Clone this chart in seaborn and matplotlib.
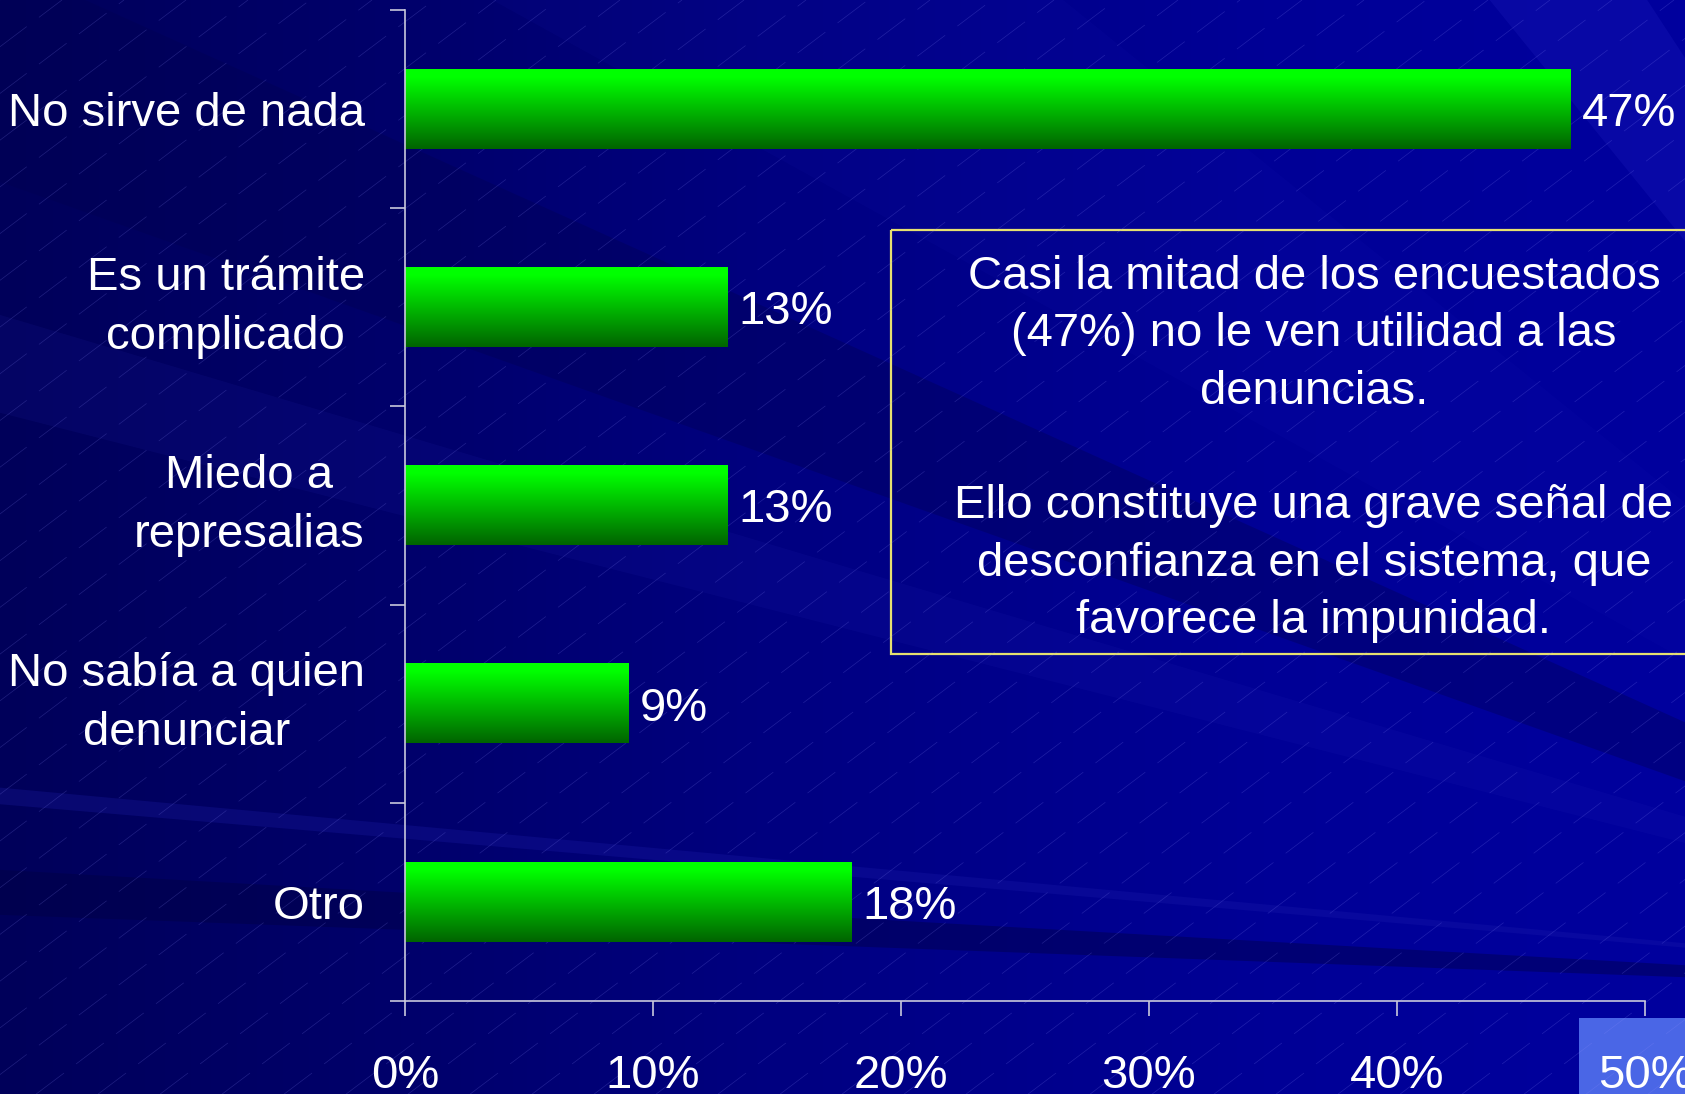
import numpy as np
import pandas as pd
import matplotlib
matplotlib.use("Agg")
import matplotlib.pyplot as plt
import seaborn as sns
from matplotlib.patches import Rectangle, Polygon
from matplotlib.collections import LineCollection
from matplotlib.colors import LinearSegmentedColormap

# datos
categorias = ["No sirve de nada", "Es un trámite\ncomplicado", "Miedo a\nrepresalias",
              "No sabía a quien\ndenunciar", "Otro"]
porcentajes = [47, 13, 13, 9, 18]
ticks_x = [0, 10, 20, 30, 40, 50]
etiquetas_x = ["0%", "10%", "20%", "30%", "40%", "50%"]
texto_caja = ("Casi la mitad de los encuestados\n(47%) no le ven utilidad a las\ndenuncias.\n\n"
              "Ello constituye una grave señal de\ndesconfianza en el sistema, que\nfavorece la impunidad.")

sns.set_theme(style="white")
plt.rcParams["font.family"] = ["Liberation Sans", "DejaVu Sans"]

W, H = 1685, 1094
TAM = 34
fig = plt.figure(figsize=(W / 100, H / 100), dpi=100)

# fondo de la diapositiva (pixeles)
bg = fig.add_axes([0, 0, 1, 1], zorder=-10)
bg.set_xlim(0, W)
bg.set_ylim(H, 0)
bg.axis("off")
cmap_fondo = LinearSegmentedColormap.from_list("fondo", ["#00005a", "#00006c", "#000084", "#000096", "#00009e"])
bg.imshow(np.linspace(0, 1, 256).reshape(1, -1), extent=(0, W, H, 0), aspect="auto", cmap=cmap_fondo)

# rayos que salen de la derecha
foco = (2300, 1000)
rayos = [(-2600, -1900, "#3030d0", 0.18),
         (-900, -300, "#2020c0", 0.08),
         (-61, 164, "#000050", 0.35),
         (300, 400, "#3030c0", 0.10),
         (783, 800, "#2020b0", 0.25),
         (867, 913, "#000040", 0.4)]
for y1, y2, c, a in rayos:
    bg.add_patch(Polygon([foco, (-50, y1), (-50, y2)], closed=True, facecolor=c, edgecolor="none", alpha=a))

# lineas diagonales punteadas
dx = H / np.tan(np.radians(37))
segs = [[(c, H), (c + dx, 0)] for c in np.arange(-dx, W + 60, 62)]
bg.add_collection(LineCollection(segs, colors="#9090ff", linewidths=0.5, alpha=0.22,
                                 linestyles=[(0, (50, 22))]))

# caja de texto
bg.add_patch(Rectangle((891, 230), 900, 424, facecolor="none", edgecolor="#e6e070", lw=1.6))
bg.text(1314, 449, texto_caja, color="white", fontsize=TAM, ha="center", va="center",
        multialignment="center", linespacing=1.39)

# boton inferior derecho
bg.add_patch(Rectangle((1579, 1018), 120, 90, facecolor="#4a66e6", edgecolor="none"))

# grafico
df = pd.DataFrame({"motivo": categorias, "porcentaje": porcentajes})
ax = fig.add_axes([405 / W, 93 / H, 1240 / W, 991 / H])
ax.patch.set_alpha(0)
sns.barplot(data=df, x="porcentaje", y="motivo", orient="h", ax=ax, width=0.40, color="#00c000")

cmap_barra = LinearSegmentedColormap.from_list("verde", ["#006400", "#00ff00"])
t = np.linspace(0, 1, 200)
grad = np.clip(1 - (t - 0.1) / 0.9, 0, 1).reshape(-1, 1)
for p in ax.patches:
    x0, y0, w, h = p.get_x(), p.get_y(), p.get_width(), p.get_height()
    ax.imshow(grad, extent=(x0, x0 + w, y0 + h, y0), origin="upper", aspect="auto",
              cmap=cmap_barra, vmin=0, vmax=1, zorder=2)
    p.set_facecolor("none")
    p.set_edgecolor("none")

etiquetas = ax.bar_label(ax.containers[0], labels=[f"{v}%" for v in porcentajes], padding=8,
                         color="white", fontsize=TAM)
for e in etiquetas:
    e.set_va("center_baseline")

ax.set_xlim(0, 50)
ax.set_ylim(4.5, -0.5)
ax.set_xticks(ticks_x)
ax.set_xticklabels(etiquetas_x)
ax.set_yticks(np.arange(-0.5, 5, 1), minor=True)
ax.set_xlabel("")
ax.set_ylabel("")

linea = "#c8c8dc"
ax.tick_params(axis="x", bottom=True, length=11, width=1.2, color=linea, pad=27,
               labelsize=TAM, labelcolor="white")
ax.tick_params(axis="y", which="major", length=0, pad=29, labelsize=TAM, labelcolor="white")
ax.tick_params(axis="y", which="minor", left=True, length=11, width=1.2, color=linea)
for lbl in ax.get_yticklabels():
    lbl.set_multialignment("center")
    lbl.set_linespacing(1.45)
    if "\n" in lbl.get_text():
        lbl.set_va("center")

for s in ["top", "right"]:
    ax.spines[s].set_visible(False)
for s in ["left", "bottom"]:
    ax.spines[s].set_color(linea)
    ax.spines[s].set_linewidth(1.2)

fig.savefig("out.png", dpi=100, facecolor="#000070")
